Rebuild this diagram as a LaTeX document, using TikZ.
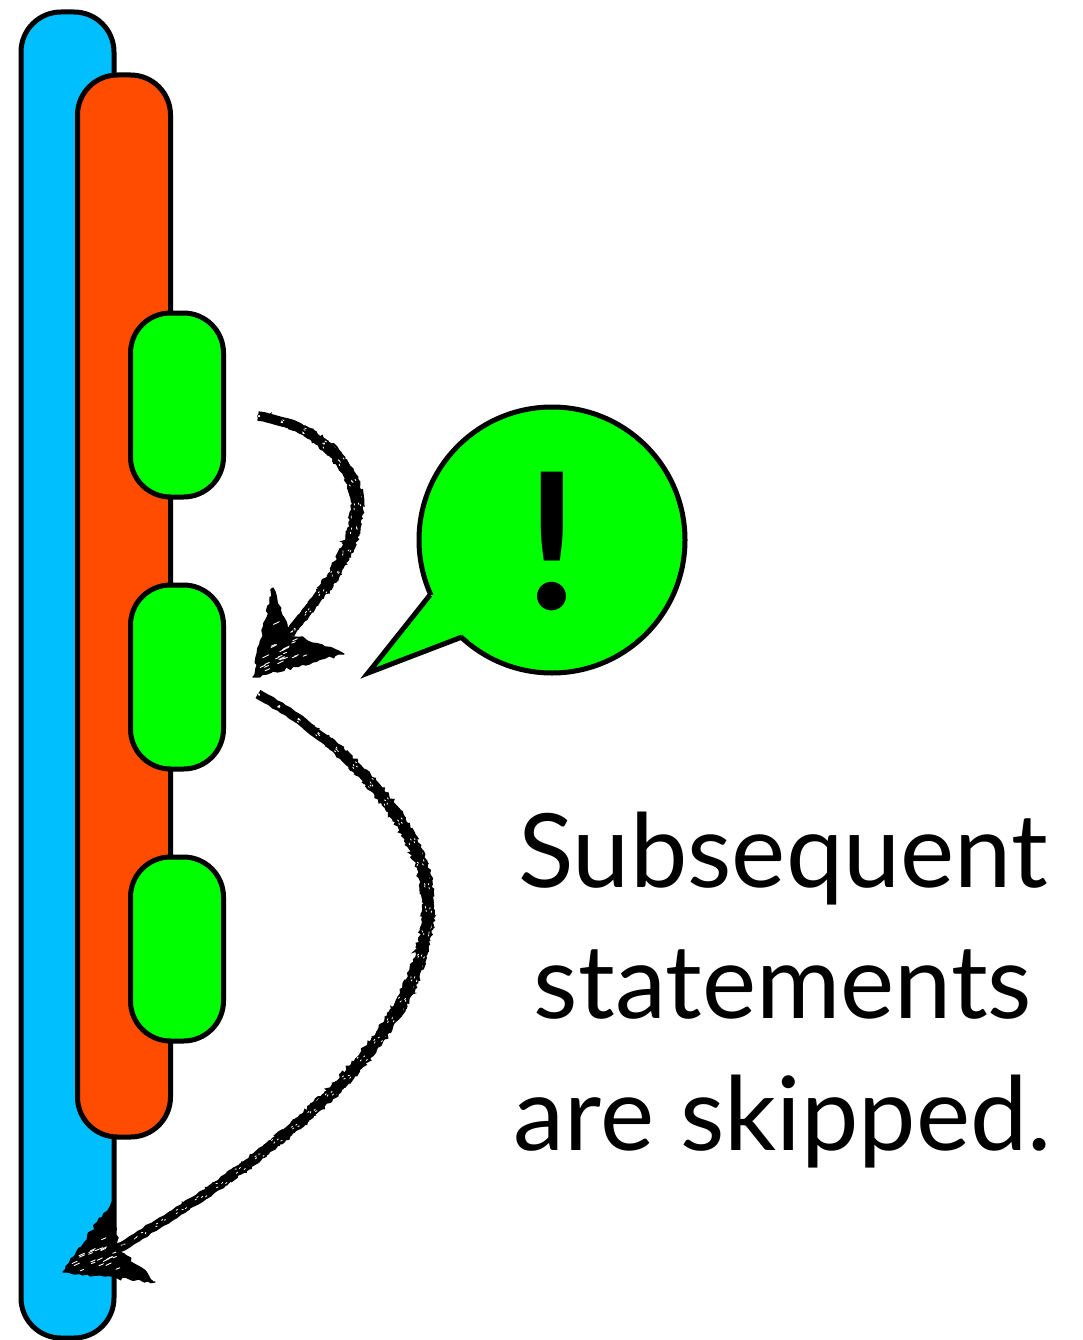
\documentclass[tikz,border=0pt]{standalone}
\usepackage{fontspec}
\setmainfont{Lato}
\usetikzlibrary{decorations.pathmorphing,calc}
\definecolor{skyb}{RGB}{0,191,255}
\definecolor{redo}{RGB}{255,76,0}
\definecolor{lime}{RGB}{0,255,0}
\tikzset{
  bar/.style={draw=black,line width=5pt,rounded corners=40pt,minimum width=93pt,inner sep=0pt,outer sep=0pt},
  chalkcore/.style={draw=black,line width=9.5pt,decorate,decoration={random steps,segment length=5pt,amplitude=1pt}},
  chalkedge/.style={draw=black,line width=2.2pt,decorate,decoration={random steps,segment length=3pt,amplitude=2pt}},
  chalkfleck/.style={draw=white,line width=0.8pt,dash pattern=on 2pt off 23pt,decorate,decoration={random steps,segment length=4pt,amplitude=1.5pt}},
  chalkhead/.style={draw=black,fill=black,line width=1.2pt,line join=round,decorate,decoration={random steps,segment length=4pt,amplitude=1.8pt}},
}
\newcommand{\chalkshaft}[1]{%
  \path[chalkcore] #1;
  \foreach \sx/\sy in {5/0,-5/0,0/5,0/-5,3.6/3.6,-3.6/-3.6,3.6/-3.6,-3.6/3.6}{
    \path[chalkedge,shift={(\sx pt,\sy pt)}] #1;
  }
  \foreach \sx/\sy in {2.5/2.5,-2.5/-2.5,2.5/-2.5,-2.5/2.5}{
    \path[chalkfleck,shift={(\sx pt,\sy pt)}] #1;
  }%
}
% tip, barb1, notch, barb2
\newcommand{\chalkarrowhead}[4]{%
  \path[chalkhead] (#1) -- (#2) -- (#3) -- (#4) -- cycle;
  \foreach \ia in {1,...,24}{
    \pgfmathsetmacro{\ua}{0.15+0.55*rnd}
    \pgfmathsetmacro{\va}{0.15+0.7*rnd}
    \pgfmathsetmacro{\wa}{rnd}
    \coordinate (fp) at ($(#1)!\ua!($(#2)!\va!(#4)$)$);
    \draw[white,line width=0.9pt,line cap=round] (fp) -- ++({3+3*\wa},{-1-2*\wa});
  }%
}
\begin{document}
\begin{tikzpicture}[x=1pt,y=-1pt]
\useasboundingbox (0,0) rectangle (1083,1340);
\pgfmathsetseed{11}
\node[bar,fill=skyb,minimum height=1326pt] (blue) at (67.5,675) {};
\node[bar,fill=redo,minimum height=1062pt] (red) at (124,606) {};
\node[bar,fill=lime,minimum height=184pt] (g1) at (177,405) {};
\node[bar,fill=lime,minimum height=184pt] (g2) at (177,677) {};
\node[bar,fill=lime,minimum height=184pt] (g3) at (177,949) {};
% speech bubble
\node[circle,draw=black,fill=lime,line width=5pt,minimum size=266pt,inner sep=0pt,outer sep=0pt] (bubble) at (552,540) {};
\coordinate (tA) at (430,595);
\coordinate (tB) at (462,637);
\coordinate (tT) at (368,673);
\coordinate (tI) at (470,590);
\fill[lime] (tA) -- (tT) -- (tB) -- (tI) -- cycle;
\draw[line width=5pt,line join=miter,miter limit=10] (tA) -- (tT) -- (tB);
\node[font=\fontsize{190}{190}\selectfont\bfseries,inner sep=0pt] (bang) at (552,541) {!};
% text
\node[font=\fontsize{102.5}{131.5}\selectfont,align=center,inner sep=0pt] (txt) at (783,990) {Subsequent\\statements\\are skipped.};
% arrow 1
\coordinate (a1s) at (258,416);
\coordinate (a1t) at (253,677);
\coordinate (a1b) at (273,588);
\coordinate (a1n) at (290,634);
\coordinate (a1c) at (344,654);
\chalkshaft{(a1s) .. controls (320,425) and (360,470) .. (357,510) .. controls (353,560) and (315,600) .. (a1n)}
\chalkarrowhead{a1t}{a1b}{a1n}{a1c}
% arrow 2
\coordinate (a2s) at (258,694);
\coordinate (a2t) at (63,1272);
\coordinate (a2b) at (112,1202);
\coordinate (a2n) at (118,1248);
\coordinate (a2c) at (155,1282);
\chalkshaft{(a2s) .. controls (350,745) and (428,830) .. (428,905) .. controls (428,1040) and (270,1160) .. (a2n)}
\chalkarrowhead{a2t}{a2b}{a2n}{a2c}
\end{tikzpicture}
\end{document}
